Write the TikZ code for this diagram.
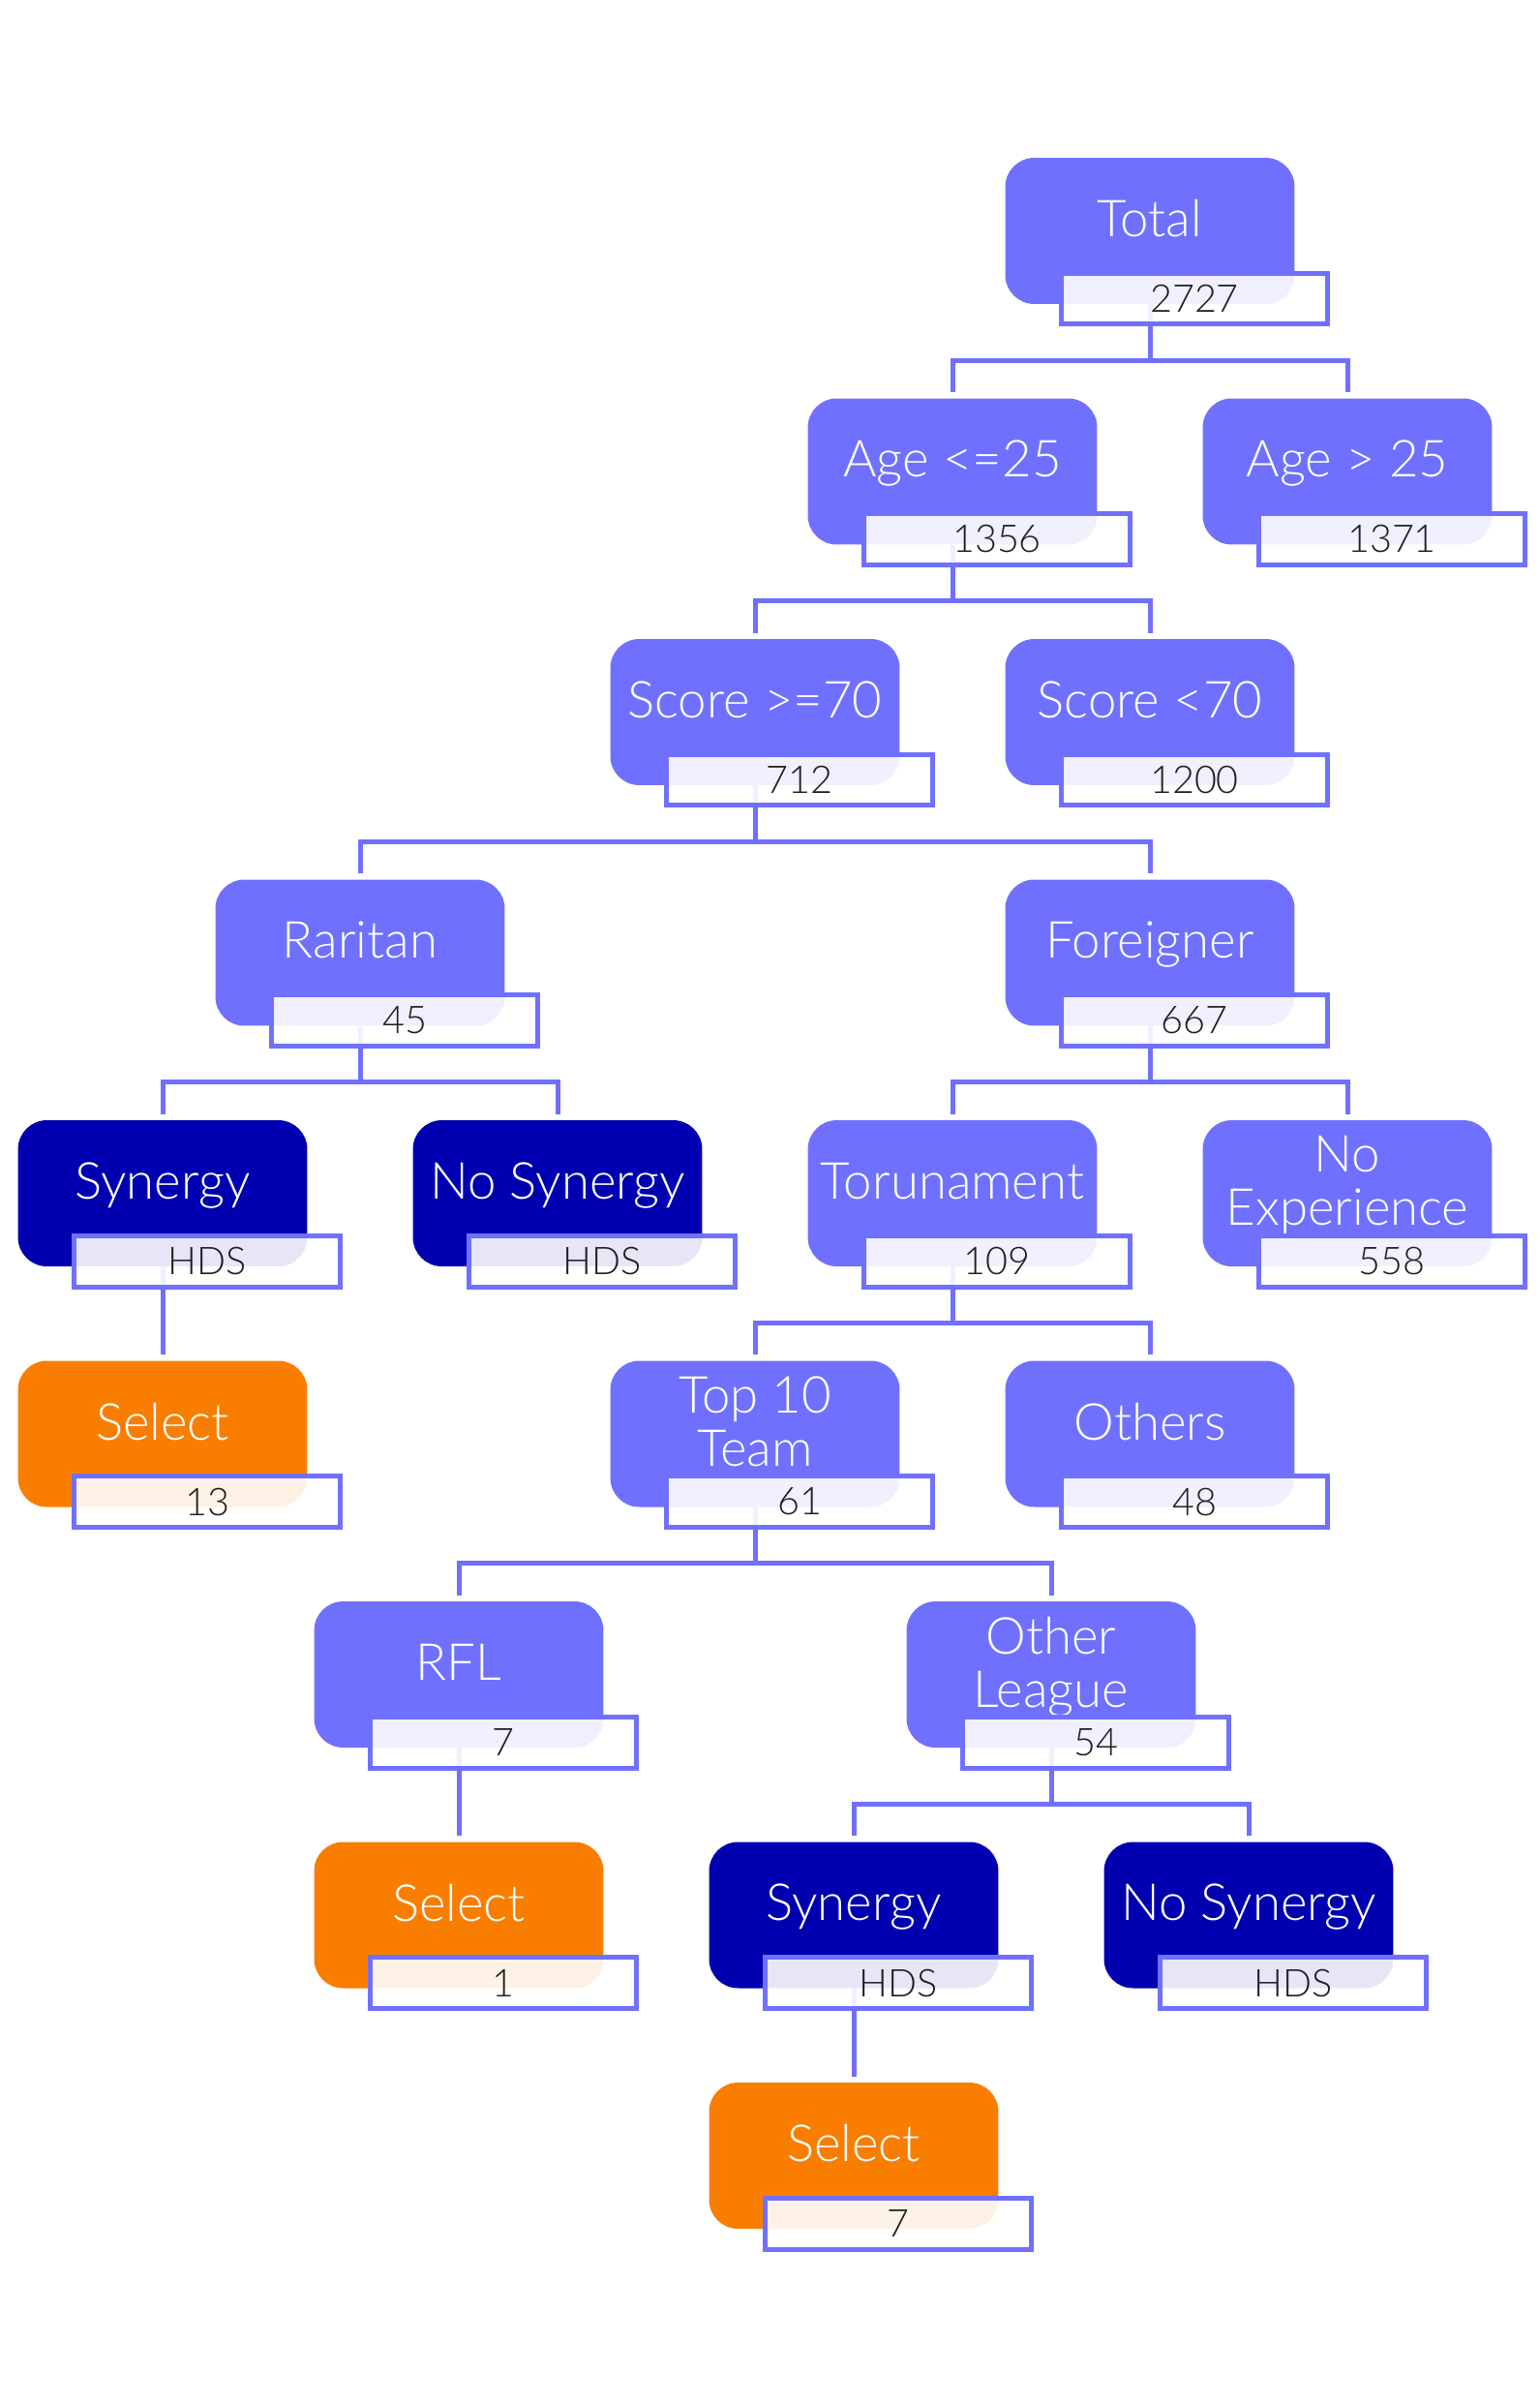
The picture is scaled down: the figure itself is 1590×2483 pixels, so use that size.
\documentclass[tikz,border=0pt]{standalone}
\usepackage{fontspec}
\setmainfont{Lato}[UprightFont=* Light]
\usepackage{tikz}
\usetikzlibrary{calc, backgrounds}

\definecolor{boxpurple}{HTML}{7070FF}
\definecolor{deepblue}{HTML}{0000B0}
\definecolor{selorange}{HTML}{F97E00}
\definecolor{numgray}{HTML}{1E1E1E}

\begin{document}
\begin{tikzpicture}[x=0.02cm, y=-0.02cm,
        box/.style={rounded corners=0.6cm, fill=boxpurple, text=white, minimum width=5.98cm,
            minimum height=3.02cm, inner sep=0pt, align=center, text depth=0.52cm,
            font=\fontsize{30}{31.3}\selectfont},
        darkbox/.style={box, fill=deepblue},
        selbox/.style={box, fill=selorange},
        numbox/.style={draw=boxpurple, line width=0.1cm, fill=white, fill opacity=0.9, text opacity=1,
            text=numgray, minimum width=5.5cm, minimum height=1.06cm, inner sep=0pt,
            font=\fontsize{22.5}{24}\selectfont},
        link/.style={draw=boxpurple, line width=0.1cm, shorten >=0.12cm}]
        \useasboundingbox (0,0) rectangle (1590,2483);

        % Level 0 and 1
        \node[box] (total) at (1188,238.5) {Total};
        \node[box] (age1) at (984,487) {Age <=25};
        \node[box] (age2) at (1392,487) {Age > 25};

        % Score split
        \node[box] (score1) at (780,735.5) {Score >=70};
        \node[box] (score2) at (1188,735.5) {Score <70};

        % Origin
        \node[box] (raritan) at (372,984) {Raritan};
        \node[box] (foreign) at (1188,984) {Foreigner};

        % Synergy and experience
        \node[darkbox] (syn1) at (168,1232.5) {Synergy};
        \node[darkbox] (nosyn1) at (576,1232.5) {No Synergy};
        \node[box] (tourn) at (984,1232.5) {Torunament};
        \node[box] (noexp) at (1392,1232.5) {No\\Experience};

        \node[selbox] (sel1) at (168,1481) {Select};
        \node[box] (top10) at (780,1481) {Top 10\\Team};
        \node[box] (others) at (1188,1481) {Others};

        % Leagues
        \node[box] (rfl) at (474,1729.5) {RFL};
        \node[box] (otherl) at (1086,1729.5) {Other\\League};

        \node[selbox] (sel2) at (474,1978) {Select};
        \node[darkbox] (syn2) at (882,1978) {Synergy};
        \node[darkbox] (nosyn2) at (1290,1978) {No Synergy};

        \node[selbox] (sel3) at (882,2226.5) {Select};

        % Counts
        \foreach \n/\v in {total/2727, age1/1356, age2/1371, score1/712, score2/1200, raritan/45,
                foreign/667, syn1/HDS, nosyn1/HDS, tourn/109, noexp/558, sel1/13, top10/61,
                others/48, rfl/7, otherl/54, sel2/1, syn2/HDS, nosyn2/HDS, sel3/7}
            \node[numbox] (\n-n) at ($(\n)+(46,70)$) {\v};

        % Connectors
        \begin{pgfonlayer}{background}
            \foreach \p/\c in {total/age1, total/age2, age1/score1, age1/score2, score1/raritan,
                    score1/foreign, raritan/syn1, raritan/nosyn1, foreign/tourn, foreign/noexp,
                    syn1/sel1, tourn/top10, tourn/others, top10/rfl, top10/otherl, rfl/sel2,
                    otherl/syn2, otherl/nosyn2, syn2/sel3}
                \draw[link] (\p.south) |- ($(\c.north)+(0,-39)$) -- (\c.north);
        \end{pgfonlayer}
    \end{tikzpicture}
\end{document}
